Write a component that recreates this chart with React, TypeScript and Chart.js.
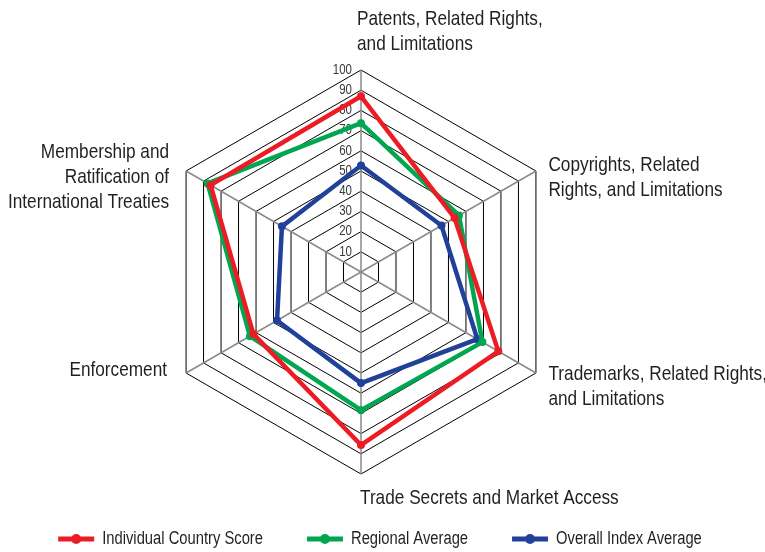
import React, { useEffect, useRef } from "react";
import { Chart, registerables } from "chart.js";

Chart.register(...registerables);

// ---------- data ----------
const categories: string[][] = [
  ["Patents, Related Rights,", "and Limitations"],
  ["Copyrights, Related", "Rights, and Limitations"],
  ["Trademarks, Related Rights,", "and Limitations"],
  ["Trade Secrets and Market Access"],
  ["Enforcement"],
  ["Membership and", "Ratification of", "International Treaties"],
];
const individualCountryScore = [87, 53.5, 78.5, 85.7, 61.5, 86];
const regionalAverage = [73.7, 56, 69.4, 68.4, 63.5, 87.7];
const overallIndexAverage = [52.7, 46, 66.5, 55, 48, 45.2];
const seriesNames = ["Individual Country Score", "Regional Average", "Overall Index Average"];
const seriesColors = ["#ED1C24", "#00A650", "#21409A"];
const tickValues = [10, 20, 30, 40, 50, 60, 70, 80, 90, 100];

// ---------- style / layout ----------
const FONT = "'Liberation Sans', Arial, sans-serif";
const NARROW = 0.82; // horizontal condensing of the text
const TEXT_COLOR = "#231F20";
const LINE_H = 25;
type LabelSpec = { align: CanvasTextAlign; dx: number; dy: number; fromCenterX?: boolean };
const labelSpecs: LabelSpec[] = [
  { align: "left", dx: -4, dy: -45, fromCenterX: true },
  { align: "left", dx: 12.5, dy: -0.5 },
  { align: "left", dx: 12.5, dy: 7 },
  { align: "left", dx: -1, dy: 30, fromCenterX: true },
  { align: "right", dx: -19, dy: 3 },
  { align: "right", dx: -17, dy: -13 },
];

function narrowText(ctx: CanvasRenderingContext2D, text: string, x: number, y: number) {
  ctx.save();
  ctx.translate(x, y);
  ctx.scale(NARROW, 1);
  ctx.fillText(text, 0, 0);
  ctx.restore();
}

const radarText = {
  id: "radarText",
  beforeDatasetsDraw(chart: any) {
    const scale = chart.scales.r;
    const ctx = chart.ctx as CanvasRenderingContext2D;
    ctx.save();
    ctx.font = `14px ${FONT}`;
    ctx.fillStyle = "#3a3a3a";
    ctx.textAlign = "right";
    ctx.textBaseline = "middle";
    tickValues.forEach((v) => {
      const d = scale.getDistanceFromCenterForValue(v);
      narrowText(ctx, String(v), scale.xCenter - 9, scale.yCenter - d);
    });
    ctx.restore();
  },
  afterDraw(chart: any) {
    const scale = chart.scales.r;
    const ctx = chart.ctx as CanvasRenderingContext2D;
    ctx.save();
    ctx.font = `21px ${FONT}`;
    ctx.fillStyle = TEXT_COLOR;
    ctx.textBaseline = "alphabetic";
    categories.forEach((lines, i) => {
      const p = scale.getPointPosition(i, scale.drawingArea);
      const s = labelSpecs[i];
      const x = (s.fromCenterX ? scale.xCenter : p.x) + s.dx;
      const y0 = p.y + s.dy;
      ctx.textAlign = s.align;
      lines.forEach((ln, k) => narrowText(ctx, ln, x, y0 + k * LINE_H));
    });
    // legend
    ctx.font = `18px ${FONT}`;
    const markerW = 36;
    const gapText = 8;
    const gapItem = 44;
    const widths = chart.data.datasets.map((ds: any) => ctx.measureText(ds.label).width * NARROW);
    const total =
      widths.reduce((a: number, w: number) => a + markerW + gapText + w, 0) +
      gapItem * (widths.length - 1);
    let x = 380 - total / 2;
    const y = 539;
    chart.data.datasets.forEach((ds: any, i: number) => {
      ctx.strokeStyle = ds.borderColor;
      ctx.lineWidth = 5;
      ctx.beginPath();
      ctx.moveTo(x, y);
      ctx.lineTo(x + markerW, y);
      ctx.stroke();
      ctx.fillStyle = ds.borderColor;
      ctx.beginPath();
      ctx.arc(x + markerW / 2, y, 5, 0, Math.PI * 2);
      ctx.fill();
      ctx.fillStyle = TEXT_COLOR;
      ctx.textAlign = "left";
      ctx.textBaseline = "middle";
      narrowText(ctx, ds.label, x + markerW + gapText, y);
      x += markerW + gapText + widths[i] + gapItem;
    });
    ctx.restore();
  },
};

export default function App() {
  const ref = useRef<HTMLCanvasElement | null>(null);
  useEffect(() => {
    document.body.style.margin = "0";
    const series = [individualCountryScore, regionalAverage, overallIndexAverage];
    const chart = new Chart(ref.current as HTMLCanvasElement, {
      type: "radar",
      data: {
        labels: categories.map((c) => c.join(" ")),
        datasets: series.map((d, i) => ({
          label: seriesNames[i],
          data: d,
          borderColor: seriesColors[i],
          backgroundColor: seriesColors[i],
          pointBackgroundColor: seriesColors[i],
          pointBorderColor: seriesColors[i],
          borderWidth: 4.5,
          pointRadius: 4,
          pointBorderWidth: 0,
          fill: false,
          tension: 0,
        })),
      },
      options: {
        responsive: false,
        animation: false,
        events: [],
        layout: { padding: { left: 159, right: 201, top: 70, bottom: 77 } },
        plugins: { legend: { display: false }, tooltip: { enabled: false } },
        scales: {
          r: {
            min: 0,
            max: 100,
            ticks: { stepSize: 10, display: false },
            pointLabels: { display: false },
            grid: { circular: false, color: "#000000", lineWidth: 1 },
            angleLines: { color: "#8a8a8a", lineWidth: 1.5 },
          },
        },
      },
      plugins: [radarText],
    } as any);
    return () => chart.destroy();
  }, []);
  return (
    <div style={{ position: "absolute", left: 0, top: 0, width: 765, height: 552, background: "#fff" }}>
      <canvas ref={ref} width={765} height={552} />
    </div>
  );
}
